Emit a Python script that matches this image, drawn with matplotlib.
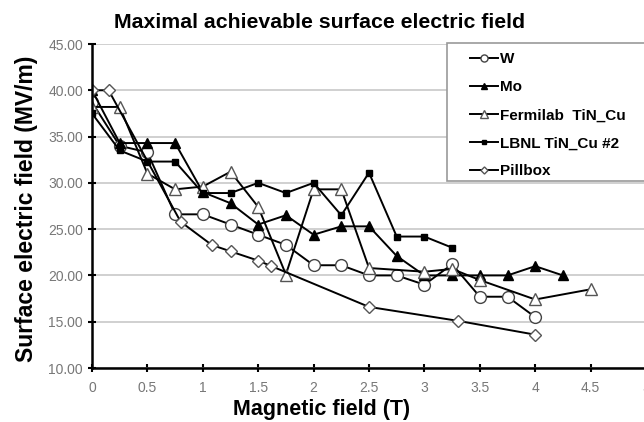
import matplotlib

matplotlib.use("Agg")
import matplotlib.pyplot as plt
from matplotlib.patches import Rectangle
from matplotlib.ticker import FormatStrFormatter, MultipleLocator

plt.rcParams["font.family"] = ["Liberation Sans", "DejaVu Sans"]

# data (B in T, E in MV/m)
w_b = [0, 0.25, 0.5, 0.75, 1.0, 1.25, 1.5, 1.75, 2.0, 2.25, 2.5, 2.75, 3.0, 3.25, 3.5, 3.75, 4.0]
w_e = [38.7, 34.0, 33.3, 26.6, 26.6, 25.5, 24.4, 23.3, 21.1, 21.1, 20.0, 20.0, 19.0, 21.2, 17.7, 17.7, 15.5]

mo_b = [0, 0.25, 0.5, 0.75, 1.0, 1.25, 1.5, 1.75, 2.0, 2.25, 2.5, 2.75, 3.0, 3.25, 3.5, 3.75, 4.0, 4.25]
mo_e = [40.0, 34.3, 34.3, 34.3, 29.0, 27.8, 25.5, 26.5, 24.4, 25.3, 25.3, 22.1, 20.0, 20.0, 20.0, 20.0, 21.0, 20.0]

fnal_b = [0, 0.25, 0.5, 0.75, 1.0, 1.25, 1.5, 1.75, 2.0, 2.25, 2.5, 3.0, 3.25, 3.5, 4.0, 4.5]
fnal_e = [38.2, 38.2, 31.0, 29.3, 29.6, 31.2, 27.4, 20.1, 29.3, 29.3, 20.8, 20.4, 20.7, 19.5, 17.4, 18.5]

lbnl_b = [0, 0.25, 0.5, 0.75, 1.0, 1.25, 1.5, 1.75, 2.0, 2.25, 2.5, 2.75, 3.0, 3.25]
lbnl_e = [37.5, 33.5, 32.3, 32.3, 28.9, 28.9, 30.0, 28.9, 30.0, 26.5, 31.1, 24.2, 24.2, 23.0]

pill_b = [0, 0.15, 0.8, 1.08, 1.25, 1.5, 1.62, 2.5, 3.3, 4.0]
pill_e = [40.0, 40.0, 25.8, 23.3, 22.6, 21.6, 21.0, 16.6, 15.1, 13.6]

W, H = 644, 422
fig = plt.figure(figsize=(W / 100, H / 100), dpi=100)
ax = fig.add_axes([92 / W, 1 - 368 / H, (646 - 92) / W, (368 - 44) / H])

ax.plot(w_b, w_e, "k-", lw=1.4, marker="o", ms=8.5, mfc="white", mec="#444444", mew=1.0, label="W")
ax.plot(mo_b, mo_e, "k-", lw=1.4, marker="^", ms=6.5, mfc="black", mec="black", label="Mo")
ax.plot(fnal_b, fnal_e, "k-", lw=1.4, marker="^", ms=8.5, mfc="white", mec="#555555", mew=1.0,
        label="Fermilab  TiN_Cu")
ax.plot(lbnl_b, lbnl_e, "k-", lw=1.4, marker="s", ms=5, mfc="black", mec="black", label="LBNL TiN_Cu #2")
ax.plot(pill_b, pill_e, "k-", lw=1.4, marker="D", ms=6, mfc="white", mec="#555555", mew=1.0,
        label="Pillbox")

ax.set_xlim(0, 5)
ax.set_ylim(10, 45)
ax.yaxis.set_major_locator(MultipleLocator(5))
ax.yaxis.set_major_formatter(FormatStrFormatter("%.2f"))
ax.set_xticks([0, 0.5, 1, 1.5, 2, 2.5, 3, 3.5, 4, 4.5, 5])
ax.set_xticklabels(["0", "0.5", "1", "1.5", "2", "2.5", "3", "3.5", "4", "4.5", "5"])
ax.grid(axis="y", color="#c8c8c8", lw=1.2)
ax.set_axisbelow(True)

for s in ["top", "right"]:
    ax.spines[s].set_visible(False)
ax.spines["left"].set_linewidth(1.8)
ax.spines["bottom"].set_linewidth(1.8)
ax.tick_params(direction="inout", length=6, width=1.5, labelsize=10, labelcolor="#777777")
ax.tick_params(axis="x", pad=6)

ax.set_xlabel("Magnetic field (T)", fontsize=15.5, fontweight="bold")
ax.xaxis.set_label_coords((322 - 92) / 554, -0.095)
ax.set_ylabel("Surface electric field (MV/m)", fontsize=16.5, fontweight="bold")
ax.yaxis.set_label_coords(-0.097, 0.49)
fig.text(320 / W, 1 - 22 / H, "Maximal achievable surface electric field", ha="center", va="center",
         fontsize=15.3, fontweight="bold")

# legend box (runs past the right edge, as in the reference)
box = Rectangle((447 / W, 1 - 181 / H), 210 / W, 138 / H, transform=fig.transFigure,
                facecolor="white", edgecolor="#999999", lw=1.2, zorder=5, clip_on=False)
ax.add_patch(box)
leg = ax.legend(loc="upper left", bbox_to_anchor=(464 / W, 1 - 46 / H), bbox_transform=fig.transFigure,
                frameon=False, prop={"weight": "bold", "size": 11}, handlelength=1.8,
                labelspacing=0.92, borderpad=0.4, handletextpad=0.15, markerscale=0.6,
                borderaxespad=0)
leg.set_zorder(6)

fig.savefig("out.png", dpi=100)
